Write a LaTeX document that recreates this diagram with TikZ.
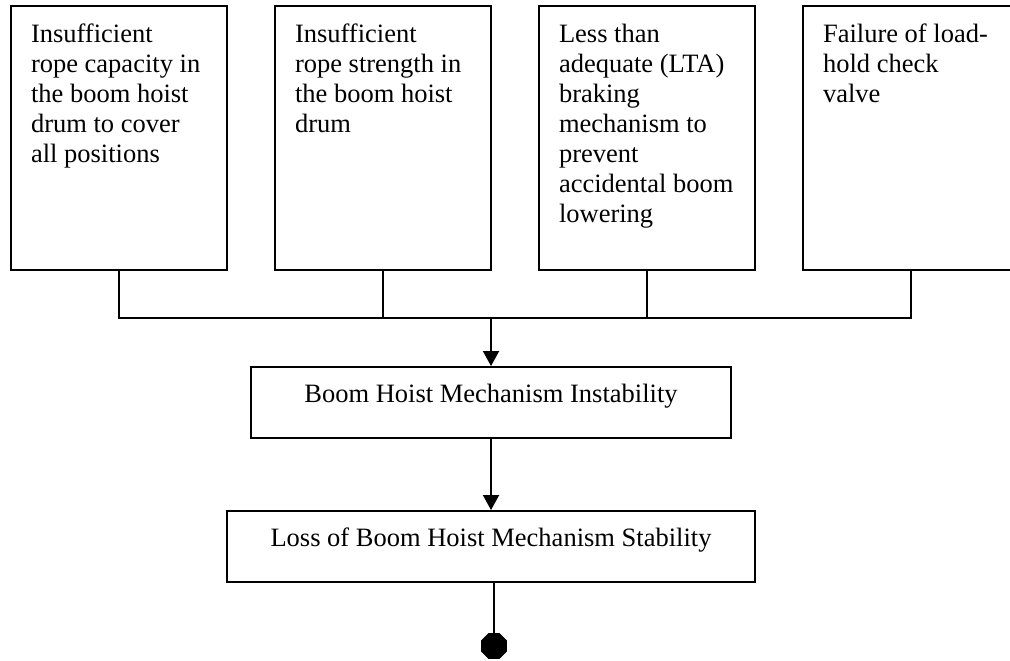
\documentclass[tikz,border=0pt]{standalone}
\usepackage{fontspec}
\setmainfont{Liberation Serif}
\usepackage{tikz}
\usetikzlibrary{positioning}
\usetikzlibrary{arrows.meta}
\usetikzlibrary{shapes.geometric}
\newcommand{\causetext}[1]{\parbox[c][117pt][t]{88pt}{\raggedright\strut #1}}
\tikzset{
every node/.style={ % Times-like text everywhere
font=\fontsize{13.25}{15}\selectfont},
cause/.style={ % Sets the properties for each top box
draw, line width=1pt,
inner xsep=10pt, inner ysep=7.5pt},
event/.style={ % Sets the properties for the middle boxes
draw, line width=1pt,
inner ysep=0pt,
text height=17.5pt, text depth=18pt},
arrow/.style={ % Directed connectors with filled heads
draw, line width=1pt,
-{Triangle[width=8pt,length=7.5pt]}},
endpoint/.style={ % Black octagon at the bottom
regular polygon, regular polygon sides=8,
fill=black, inner sep=0pt, minimum size=14pt}}

\begin{document}
\begin{tikzpicture}[x=0.5pt,y=-0.5pt]
\clip (0,0) rectangle (1010,660);
\node[cause] (c1) at (119,138) {\causetext{Insufficient\\ rope capacity in\\ the boom hoist\\ drum to cover\\ all positions}};
\node[cause] (c2) at (383,138) {\causetext{Insufficient\\ rope strength in\\ the boom hoist\\ drum}};
\node[cause] (c3) at (647,138) {\causetext{Less than\\ adequate (LTA)\\ braking\\ mechanism to\\ prevent\\ accidental boom\\ lowering}};
\node[cause] (c4) at (911,138) {\causetext{Failure of load-\\ hold check\\ valve}};
\coordinate (bus) at (491,318);
\node[event, minimum width=240pt] (top) at (491,402.5) {Boom Hoist Mechanism Instability};
\node[event, minimum width=264pt] (loss) at (491,546.5) {Loss of Boom Hoist Mechanism Stability};
\node[endpoint] (end) at (494,646) {};
\draw[line width=1pt] (c1.south) |- (bus);
\draw[line width=1pt] (c2.south) |- (bus);
\draw[line width=1pt] (c3.south) |- (bus);
\draw[line width=1pt] (c4.south) |- (bus);
\draw[arrow] (bus) -- (top.north);
\draw[arrow] (top.south) -- (loss.north);
\draw[line width=0.7pt] (loss.south -| end) -- (end);
\end{tikzpicture}
\end{document}
